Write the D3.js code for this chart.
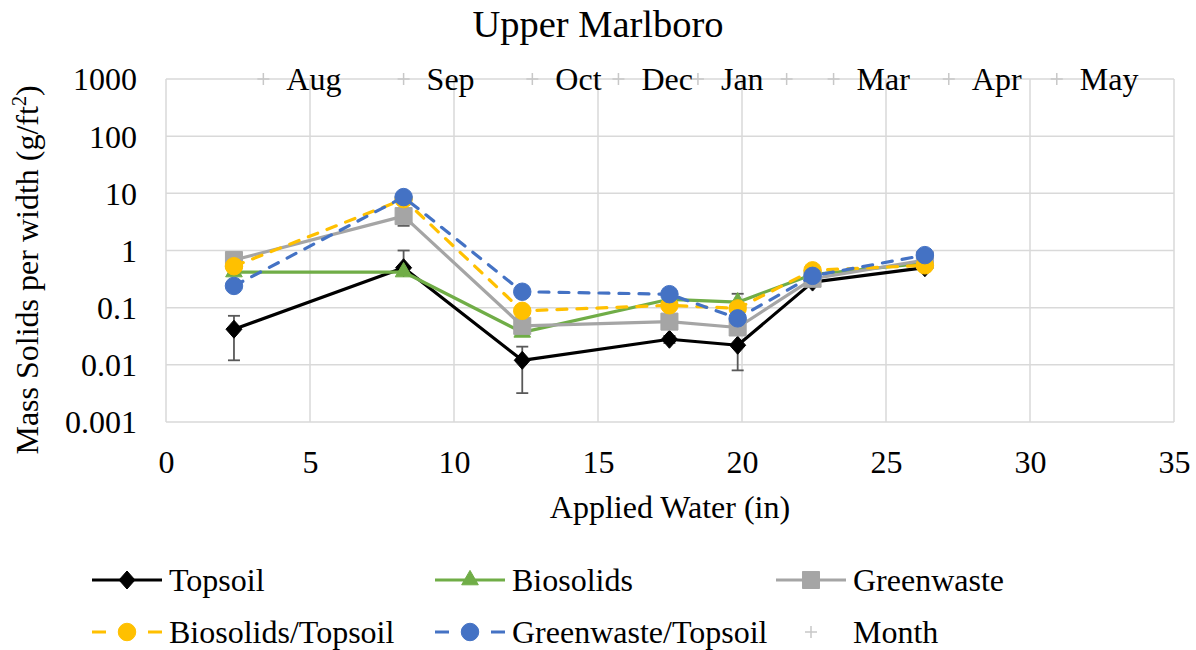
<!DOCTYPE html>
<html>
<head>
<meta charset="utf-8">
<script src="https://cdn.jsdelivr.net/npm/d3@7"></script>
<style>
  html, body { margin: 0; padding: 0; background: #fff; }
  svg { display: block; font-family: "Liberation Serif", "Times New Roman", serif; }
</style>
</head>
<body>
<svg id="chart" width="1196" height="650"></svg>
<script>
// ---- data ----
const title = "Upper Marlboro";
const xLabel = "Applied Water (in)";
const applied = [2.36, 8.25, 12.37, 17.48, 19.85, 22.45, 26.35];
const topsoil = [0.042, 0.5, 0.012, 0.028, 0.022, 0.28, 0.5];
const topsoilErr = [0.03, 0.5, 0.0088, 0.004, 0.014, 0.03, 0.05];
const biosolids = [0.42, 0.42, 0.037, 0.14, 0.125, 0.38, 0.6];
const biosolidsErr = [0, 0, 0, 0, 0.05, 0, 0];
const greenwaste = [0.68, 4.0, 0.048, 0.057, 0.045, 0.32, 0.68];
const greenwasteErr = [0, 1.3, 0, 0, 0, 0, 0];
const bioTop = [0.53, 7.9, 0.088, 0.11, 0.097, 0.45, 0.55];
const greenTop = [0.24, 8.6, 0.19, 0.172, 0.065, 0.36, 0.83];
const monthX = [3.38, 8.25, 12.72, 15.71, 18.47, 21.55, 23.18, 27.18, 30.93];
const monthY = 1000;
const monthLabels = ["Aug", "Sep", "Oct", "Dec", "Jan", "", "Mar", "Apr", "May"];
const xTicks = [0, 5, 10, 15, 20, 25, 30, 35];
const yTicks = [0.001, 0.01, 0.1, 1, 10, 100, 1000];
const yTickLabels = ["0.001", "0.01", "0.1", "1", "10", "100", "1000"];

const series = [
  { name: "Topsoil", values: topsoil, err: topsoilErr, color: "#000000", dash: null, marker: "diamond" },
  { name: "Biosolids", values: biosolids, err: biosolidsErr, color: "#70ad47", dash: null, marker: "triangle" },
  { name: "Greenwaste", values: greenwaste, err: greenwasteErr, color: "#a5a5a5", dash: null, marker: "square" },
  { name: "Biosolids/Topsoil", values: bioTop, err: null, color: "#ffc000", dash: "10,10", marker: "circle" },
  { name: "Greenwaste/Topsoil", values: greenTop, err: null, color: "#4472c4", dash: "10,10", marker: "circle" }
];

// ---- layout ----
const FS = 32;
const svg = d3.select("#chart");
const L = 166, R = 1174, T = 79, B = 422;
const x = d3.scaleLinear().domain([0, 35]).range([L, R]);
const y = d3.scaleLog().domain([0.001, 1000]).range([B, T]);
const gridColor = "#d9d9d9";

// gridlines
svg.append("g").selectAll("line").data(yTicks).join("line")
  .attr("x1", L).attr("x2", R).attr("y1", d => y(d)).attr("y2", d => y(d))
  .attr("stroke", gridColor).attr("stroke-width", 1.5);
svg.append("g").selectAll("line").data(xTicks).join("line")
  .attr("x1", d => x(d)).attr("x2", d => x(d)).attr("y1", T).attr("y2", B)
  .attr("stroke", gridColor).attr("stroke-width", 1.5);

// axes tick labels via d3 axes
const xAxis = d3.axisBottom(x).tickValues(xTicks).tickSize(0).tickPadding(0).tickFormat(d3.format("d"));
const gx = svg.append("g").attr("transform", `translate(0,${B})`).call(xAxis);
gx.select(".domain").remove();
gx.attr("font-family", "Liberation Serif");
gx.selectAll("text").attr("font-size", FS).attr("fill", "#000")
  .attr("dy", null).attr("y", 51);

const yAxis = d3.axisLeft(y).tickValues(yTicks).tickSize(0).tickPadding(0)
  .tickFormat((d, i) => yTickLabels[i]);
const gy = svg.append("g").attr("transform", `translate(${L - 29},0)`).call(yAxis);
gy.select(".domain").remove();
gy.attr("font-family", "Liberation Serif");
gy.selectAll("text").attr("font-size", FS).attr("fill", "#000")
  .attr("x", 0).attr("dy", "0.34em");

// title & axis titles
svg.append("text").attr("x", 598).attr("y", 37).attr("text-anchor", "middle")
  .attr("font-size", 38.5).text(title);
svg.append("text").attr("x", x(17.5)).attr("y", 518).attr("text-anchor", "middle")
  .attr("font-size", FS).text(xLabel);
const yt = svg.append("text").attr("transform", "translate(38,270) rotate(-90)")
  .attr("text-anchor", "middle").attr("font-size", FS);
yt.append("tspan").text("Mass Solids per width (g/ft");
yt.append("tspan").attr("font-size", 20).attr("dy", -12).text("2");
yt.append("tspan").attr("dy", 12).text(")");

// marker symbols
function markerPath(type) {
  if (type === "diamond") return "M0,-9L8,0L0,9L-8,0Z";
  if (type === "triangle") return d3.symbol(d3.symbolTriangle, 120)();
  if (type === "square") return d3.symbol(d3.symbolSquare, 290)();
  return d3.symbol(d3.symbolCircle, 240)();
}

const line = d3.line().x((d, i) => x(applied[i])).y(d => y(d));

series.forEach(s => {
  const g = svg.append("g");
  g.append("path").datum(s.values).attr("d", line)
    .attr("fill", "none").attr("stroke", s.color).attr("stroke-width", 3.2)
    .attr("stroke-linejoin", "round")
    .attr("stroke-dasharray", s.dash).attr("stroke-linecap", s.dash ? "round" : "butt");
  if (s.err) {
    const eg = g.append("g").attr("stroke", "#595959").attr("stroke-width", 1.8);
    s.values.forEach((v, i) => {
      const e = s.err[i];
      if (!e) return;
      const cx = x(applied[i]);
      const hi = v + e, lo = v - e;
      const yHi = y(hi);
      const yLo = lo > 0 ? y(lo) : y(v);
      eg.append("line").attr("x1", cx).attr("x2", cx).attr("y1", yHi).attr("y2", yLo);
      eg.append("line").attr("x1", cx - 6).attr("x2", cx + 6).attr("y1", yHi).attr("y2", yHi);
      if (lo > 0) eg.append("line").attr("x1", cx - 6).attr("x2", cx + 6).attr("y1", yLo).attr("y2", yLo);
    });
  }
  g.selectAll("path.m").data(s.values).join("path").attr("class", "m")
    .attr("d", markerPath(s.marker))
    .attr("transform", (d, i) => `translate(${x(applied[i])},${y(d)})`)
    .attr("fill", s.color).attr("stroke", s.color).attr("stroke-width", 1);
});

// Month series (plus markers with labels)
const mg = svg.append("g");
monthX.forEach((mx, i) => {
  const cx = x(mx), cy = y(monthY);
  mg.append("path").attr("d", `M${cx - 6},${cy}H${cx + 6}M${cx},${cy - 6}V${cy + 6}`)
    .attr("stroke", "#c8c8c8").attr("stroke-width", 1.5).attr("fill", "none");
  if (monthLabels[i]) {
    mg.append("text").attr("x", cx + 23).attr("y", cy).attr("dy", "0.34em")
      .attr("font-size", FS).text(monthLabels[i]);
  }
});

// legend
const legendItems = series.map(s => ({ name: s.name, color: s.color, dash: s.dash, marker: s.marker }))
  .concat([{ name: "Month", color: "#c8c8c8", dash: null, marker: "plus" }]);
const colX = [92, 435, 776];
const rowY = [580, 632];
legendItems.forEach((it, i) => {
  const lx = colX[i % 3], ly = rowY[Math.floor(i / 3)];
  const g = svg.append("g");
  if (it.marker !== "plus") {
    g.append("line").attr("x1", lx).attr("x2", lx + 70).attr("y1", ly).attr("y2", ly)
      .attr("stroke", it.color).attr("stroke-width", 3.2)
      .attr("stroke-dasharray", it.dash ? "14,14" : null);
    g.append("path").attr("d", markerPath(it.marker))
      .attr("transform", `translate(${lx + 35},${ly})`)
      .attr("fill", it.color).attr("stroke", it.color);
  } else {
    const cx = lx + 35;
    g.append("path").attr("d", `M${cx - 6},${ly}H${cx + 6}M${cx},${ly - 6}V${ly + 6}`)
      .attr("stroke", it.color).attr("stroke-width", 1.5);
  }
  g.append("text").attr("x", lx + 77).attr("y", ly).attr("dy", "0.34em")
    .attr("font-size", FS).text(it.name);
});
</script>
</body>
</html>
